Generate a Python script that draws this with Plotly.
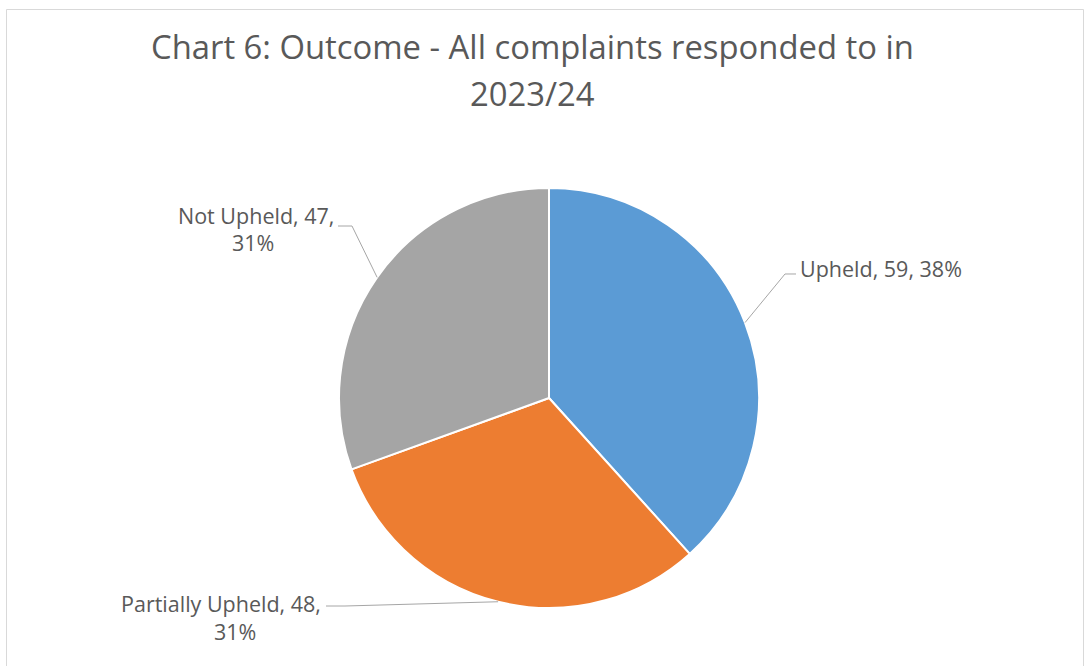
import math
import plotly.graph_objects as go

W, H = 1084, 666

categories = ["Upheld", "Partially Upheld", "Not Upheld"]
values = [59, 48, 47]
colors = ["#5B9BD5", "#ED7D31", "#A5A5A5"]
title_lines = ["Chart 6: Outcome - All complaints responded to in", "2023/24"]

# pie geometry (pixels)
CX, CY, R = 549, 398, 210


def px(x, y):
    return x / W, 1 - y / H


fig = go.Figure(go.Pie(
    labels=categories, values=values, sort=False, direction="clockwise", rotation=0,
    marker=dict(colors=colors, line=dict(color="white", width=2)),
    textinfo="none", hoverinfo="label+value+percent", showlegend=False,
    domain=dict(x=[(CX - R) / W, (CX + R) / W], y=[1 - (CY + R) / H, 1 - (CY - R) / H]),
))

total = sum(values)
pcts = [round(v / total * 100) for v in values]

# mid-angle edge points for leader lines
edges = []
cum = 0
for v in values:
    mid = (cum + v / 2) / total * 2 * math.pi
    edges.append((CX + R * math.sin(mid), CY - R * math.cos(mid)))
    cum += v

gray = "#595959"
font_lbl = dict(family="Open Sans", size=21.5, color=gray)

label_specs = [
    dict(path=[(785, 274), (796, 274)],
         lines=[(f"{categories[0]}, {values[0]}, {pcts[0]}%", 798, 268, "left")]),
    dict(path=[(345, 606), (326, 606)],
         lines=[(f"{categories[1]}, {values[1]},", 323, 603, "right"),
                (f"{pcts[1]}%", 235, 631, "center")]),
    dict(path=[(352, 226), (338, 226)],
         lines=[(f"{categories[2]}, {values[2]},", 336, 215, "right"),
                (f"{pcts[2]}%", 253, 242, "center")]),
]

shapes = []
annotations = []
for (ex, ey), spec in zip(edges, label_specs):
    pts = [(ex, ey)] + spec["path"]
    d = "M " + " L ".join(f"{px(x, y)[0]:.5f},{px(x, y)[1]:.5f}" for x, y in pts)
    shapes.append(dict(type="path", path=d, xref="paper", yref="paper",
                       line=dict(color="#A6A6A6", width=1)))
    for text, x, y, anchor in spec["lines"]:
        xx, yy = px(x, y)
        annotations.append(dict(text=text, x=xx, y=yy, xref="paper", yref="paper",
                                xanchor=anchor, yanchor="middle", showarrow=False,
                                font=font_lbl))

for i, (t, y) in enumerate(zip(title_lines, [46, 93])):
    xx, yy = px(532, y)
    annotations.append(dict(text=t, x=xx, y=yy, xref="paper", yref="paper",
                            xanchor="center", yanchor="middle", showarrow=False,
                            font=dict(family="Open Sans", size=32.8, color=gray)))

# chart frame
x0, y0 = px(6.5, 9.5)
x1, y1 = px(1083.5, 700)
shapes.append(dict(type="rect", xref="paper", yref="paper", x0=x0, x1=x1, y0=y1, y1=y0,
                   line=dict(color="#D9D9D9", width=1), layer="below"))

fig.update_layout(
    width=W, height=H, margin=dict(l=0, r=0, t=0, b=0),
    paper_bgcolor="white", plot_bgcolor="white",
    shapes=shapes, annotations=annotations,
)

fig.write_html("out.html")
